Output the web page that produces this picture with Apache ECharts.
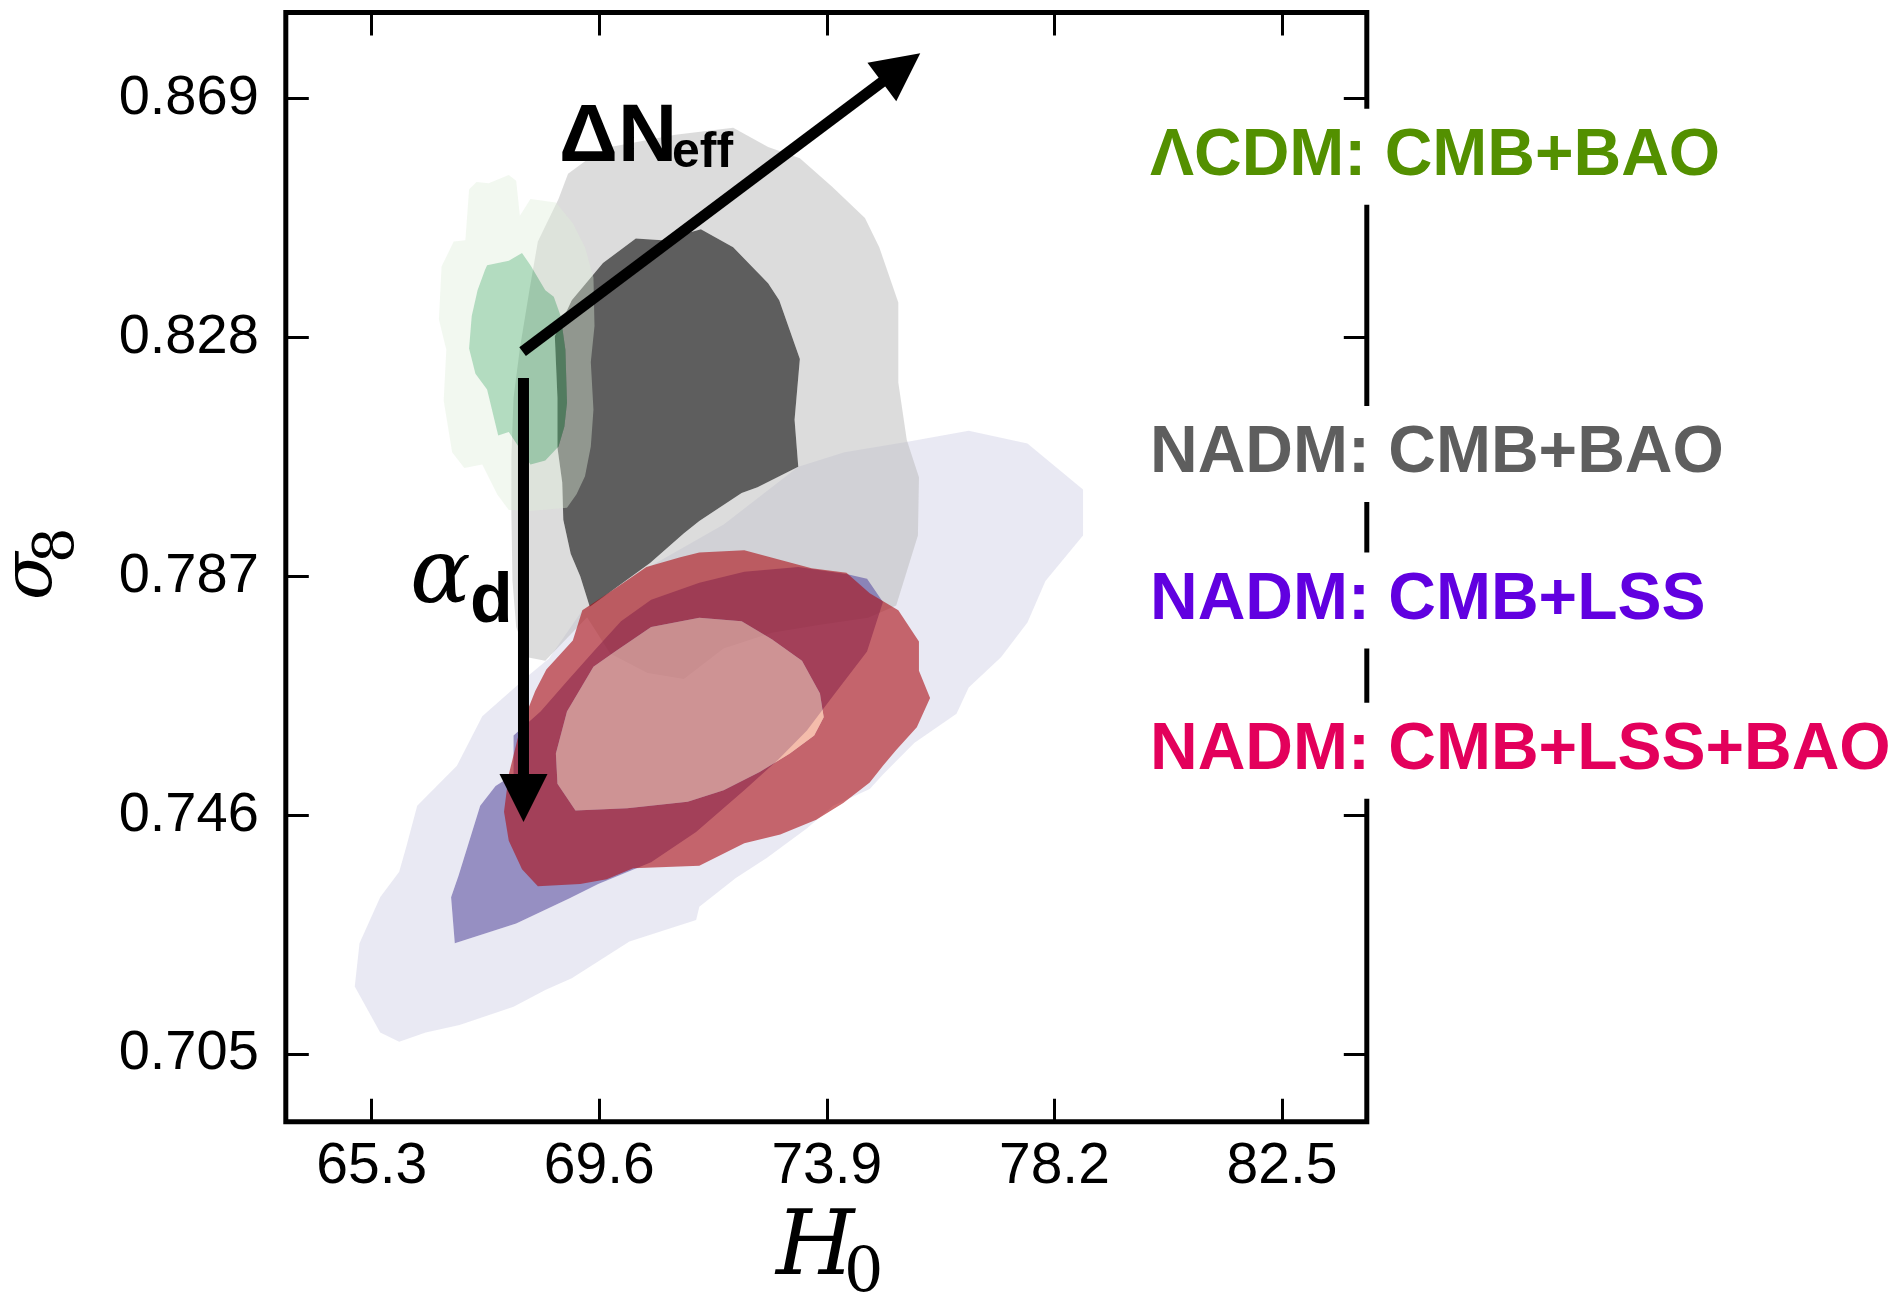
<!DOCTYPE html>
<html>
<head>
<meta charset="utf-8">
<script src="https://cdn.jsdelivr.net/npm/echarts@6/dist/echarts.min.js"></script>
<style>
html,body{margin:0;padding:0;background:#ffffff;}
#chart{width:1891px;height:1299px;}
</style>
</head>
<body>
<div id="chart"></div>
<script>
// ---------------- data ----------------
const xTicks = [65.3, 69.6, 73.9, 78.2, 82.5];
const yTicks = [0.705, 0.746, 0.787, 0.828, 0.869];
const xRange = [63.677, 84.102];
const yRange = [0.69338, 0.8838];

const legendLabels = ['ΛCDM: CMB+BAO', 'NADM: CMB+BAO', 'NADM: CMB+LSS', 'NADM: CMB+LSS+BAO'];

// LCDM: CMB+BAO  (2 sigma outer, 1 sigma inner)
const lcdmOuter = [[67.14,0.8534],[67.28,0.8547],[67.51,0.8545],[67.89,0.8559],[68.03,0.8549],[68.10,0.8489],[68.30,0.8518],[68.78,0.8512],[69.10,0.8476],[69.33,0.8435],[69.49,0.8383],[69.51,0.8300],[69.44,0.8238],[69.49,0.8156],[69.44,0.8093],[69.33,0.8042],[69.17,0.8011],[68.99,0.7988],[68.30,0.7982],[67.89,0.7984],[67.67,0.8011],[67.39,0.8062],[67.05,0.8056],[66.82,0.8083],[66.66,0.8172],[66.71,0.8259],[66.57,0.8311],[66.62,0.8402],[66.85,0.8445],[67.07,0.8447]];
const lcdmInner = [[67.48,0.8404],[67.89,0.8412],[68.14,0.8425],[68.30,0.8404],[68.58,0.8361],[68.74,0.8350],[68.87,0.8317],[68.96,0.8259],[68.99,0.8168],[68.94,0.8127],[68.83,0.8093],[68.58,0.8069],[68.30,0.8062],[67.89,0.8118],[67.69,0.8112],[67.48,0.8191],[67.26,0.8218],[67.14,0.8261],[67.19,0.8317],[67.30,0.8361],[67.44,0.8396]];

// NADM: CMB+BAO
const nadmBaoOuter = [[69.01,0.8561],[69.44,0.8590],[69.81,0.8607],[71.04,0.8628],[72.13,0.8640],[72.79,0.8607],[73.39,0.8588],[74.00,0.8539],[74.62,0.8485],[74.89,0.8435],[75.25,0.8340],[75.25,0.8203],[75.41,0.8104],[75.64,0.8040],[75.62,0.7940],[75.21,0.7820],[74.68,0.7799],[73.77,0.7787],[72.86,0.7773],[71.95,0.7746],[71.20,0.7694],[70.51,0.7704],[69.81,0.7737],[69.37,0.7800],[68.58,0.7725],[68.24,0.7731],[68.03,0.7783],[67.96,0.7862],[67.94,0.7975],[67.94,0.8077],[67.98,0.8176],[68.10,0.8261],[68.28,0.8361],[68.44,0.8445],[68.83,0.8518]];
const nadmBaoInner = [[70.29,0.8450],[70.79,0.8447],[71.52,0.8466],[72.13,0.8435],[72.79,0.8373],[73.00,0.8344],[73.39,0.8243],[73.29,0.8139],[73.36,0.8058],[72.59,0.8023],[72.29,0.8013],[71.49,0.7965],[71.20,0.7944],[70.56,0.7893],[69.42,0.7818],[69.24,0.7870],[69.06,0.7909],[68.92,0.7967],[68.90,0.8031],[68.81,0.8091],[68.81,0.8176],[68.76,0.8282],[69.08,0.8344],[69.67,0.8408]];

// NADM: CMB+LSS
const nadmLssOuter = [[76.58,0.8120],[77.69,0.8098],[78.74,0.8019],[78.74,0.7940],[78.03,0.7862],[77.69,0.7791],[77.19,0.7731],[76.58,0.7679],[76.35,0.7634],[75.55,0.7584],[74.96,0.7530],[74.71,0.7505],[74.02,0.7476],[73.52,0.7437],[72.77,0.7387],[72.18,0.7352],[71.49,0.7303],[71.43,0.7280],[70.17,0.7243],[69.08,0.7180],[68.58,0.7160],[67.98,0.7131],[66.96,0.7100],[66.32,0.7087],[65.82,0.7071],[65.46,0.7087],[64.98,0.7166],[65.07,0.7240],[65.46,0.7319],[65.82,0.7363],[65.96,0.7408],[66.16,0.7476],[66.91,0.7545],[67.39,0.7630],[68.24,0.7698],[68.65,0.7729],[69.28,0.7812],[70.35,0.7876],[71.95,0.7959],[73.36,0.8058],[74.23,0.8083],[75.48,0.8102]];
const nadmLssInner = [[66.80,0.7319],[66.87,0.7240],[68.03,0.7274],[69.03,0.7317],[69.58,0.7342],[70.58,0.7379],[71.43,0.7431],[72.34,0.7503],[72.98,0.7555],[73.52,0.7605],[74.02,0.7665],[74.66,0.7741],[74.96,0.7826],[74.66,0.7866],[74.27,0.7874],[73.36,0.7886],[72.34,0.7878],[71.49,0.7859],[70.58,0.7830],[70.01,0.7793],[69.49,0.7741],[68.99,0.7690],[68.49,0.7638],[67.98,0.7597],[67.98,0.7530],[67.64,0.7510],[67.35,0.7476],[66.94,0.7356]];

// NADM: CMB+LSS+BAO
const nadmAllOuter = [[70.49,0.7886],[71.13,0.7903],[71.49,0.7911],[72.34,0.7915],[73.61,0.7884],[74.27,0.7876],[74.71,0.7841],[75.25,0.7812],[75.64,0.7758],[75.64,0.7708],[75.85,0.7661],[75.60,0.7611],[75.21,0.7572],[74.96,0.7545],[74.71,0.7516],[74.21,0.7481],[73.70,0.7452],[73.02,0.7427],[72.34,0.7412],[71.49,0.7373],[70.24,0.7369],[69.74,0.7350],[69.24,0.7342],[68.44,0.7338],[68.14,0.7367],[67.89,0.7416],[67.80,0.7466],[67.89,0.7530],[68.10,0.7607],[68.39,0.7673],[68.60,0.7710],[69.10,0.7760],[69.28,0.7812],[69.90,0.7849]];
const nadmAllInner = [[69.49,0.7715],[69.90,0.7741],[70.58,0.7783],[71.49,0.7799],[72.29,0.7793],[72.86,0.7762],[73.43,0.7725],[73.77,0.7669],[73.84,0.7628],[73.66,0.7597],[73.20,0.7566],[72.63,0.7534],[71.95,0.7503],[71.27,0.7483],[70.13,0.7472],[69.15,0.7468],[68.81,0.7514],[68.78,0.7566],[68.99,0.7638]];

// annotation arrows: [x_from, y_from, x_to, y_to]
const arrowData = [[68.151, 0.82558, 75.665, 0.87681], [68.168, 0.82106, 68.168, 0.74482]];

// ---------------- helpers ----------------
function signedArea(pts) {
  let a = 0;
  for (let i = 0; i < pts.length; i++) {
    const p = pts[i], q = pts[(i + 1) % pts.length];
    a += p[0] * q[1] - q[0] * p[1];
  }
  return a / 2;
}
function pathOf(pts) {
  return 'M' + pts.map(p => p[0].toFixed(2) + ' ' + p[1].toFixed(2)).join(' L') + ' Z ';
}
function band(name, outer, inner, color, z) {
  return {
    type: 'custom', name: name, coordinateSystem: 'cartesian2d',
    xAxisIndex: 0, yAxisIndex: 0, z: z, silent: true, animation: false,
    data: outer,
    renderItem: function (params, api) {
      if (params.dataIndex !== 0) return null;
      const o = outer.map(p => api.coord(p));
      let d = pathOf(o);
      if (inner) {
        let h = inner.map(p => api.coord(p));
        if (Math.sign(signedArea(o)) === Math.sign(signedArea(h))) h = h.slice().reverse();
        d += pathOf(h);
      }
      return { type: 'path', shape: { pathData: d }, style: { fill: color, stroke: null } };
    }
  };
}

const chart = echarts.init(document.getElementById('chart'), null, { renderer: 'canvas' });

const tickFont = 'Liberation Sans';
const baseAxis = {
  type: 'value',
  axisLine: { show: false },
  splitLine: { show: false },
  axisTick: { show: true, inside: true, length: 23, lineStyle: { color: '#000', width: 3 } }
};

const legendColors = ['#539000', '#5e5e5e', '#6100e0', '#e3005b'];
const legendY = [156.8, 454, 600.6, 750.7];

const graphics = legendLabels.map((t, i) => ({
  type: 'text', x: 1146, y: legendY[i], z: 100,
  style: {
    text: t, fill: legendColors[i],
    fontFamily: 'Liberation Sans', fontWeight: 'bold', fontSize: 66,
    align: 'left', verticalAlign: 'middle', textAlign: 'left', textVerticalAlign: 'middle',
    backgroundColor: '#ffffff', padding: [15, 4, 15, 4], lineHeight: 66
  }
}));

function txt(text, x, y, font, extra) {
  return Object.assign({
    type: 'text', x: x, y: y, z: 110,
    style: Object.assign({
      text: text, fill: '#000', align: 'left', verticalAlign: 'middle',
      textAlign: 'left', textVerticalAlign: 'middle'
    }, font)
  }, extra || {});
}

graphics.push(txt('ΔN', 559, 138.7, { fontFamily: 'Liberation Sans', fontWeight: 'bold', fontSize: 82 }));
graphics.push(txt('eff', 672, 153.7, { fontFamily: 'Liberation Sans', fontWeight: 'bold', fontSize: 50 }));
graphics.push(txt('α', 410, 579, { fontFamily: 'DejaVu Serif', fontStyle: 'italic', fontSize: 90 }));
graphics.push(txt('d', 470, 602.7, { fontFamily: 'Liberation Sans', fontWeight: 'bold', fontSize: 70 }));
graphics.push(txt('H', 776, 1250.9, { fontFamily: 'DejaVu Serif', fontStyle: 'italic', fontSize: 90 }));
graphics.push(txt('0', 844, 1274.5, { fontFamily: 'DejaVu Serif', fontSize: 62 }));
graphics.push({
  type: 'group', x: 57, y: 600, rotation: Math.PI / 2, z: 110,
  children: [
    txt('σ', 0, -24.2, { fontFamily: 'DejaVu Serif', fontStyle: 'italic', fontSize: 70 }),
    txt('8', 37, 1, { fontFamily: 'DejaVu Serif', fontSize: 56 })
  ]
});

const option = {
  animation: false,
  backgroundColor: '#ffffff',
  grid: {
    left: 285.8, top: 12.5, width: 1081, height: 1109.2,
    show: true, borderColor: '#000', borderWidth: 5, backgroundColor: 'transparent',
    containLabel: false, outerBoundsMode: 'none'
  },
  xAxis: [
    Object.assign({}, baseAxis, {
      position: 'bottom', min: xRange[0], max: xRange[1],
      axisTick: Object.assign({}, baseAxis.axisTick, { customValues: xTicks }),
      axisLabel: {
        show: true, customValues: xTicks, margin: 17, color: '#000',
        fontFamily: tickFont, fontSize: 57, formatter: v => Number(v).toFixed(1)
      }
    }),
    Object.assign({}, baseAxis, {
      position: 'top', min: xRange[0], max: xRange[1],
      axisTick: Object.assign({}, baseAxis.axisTick, { customValues: xTicks }),
      axisLabel: { show: false }
    })
  ],
  yAxis: [
    Object.assign({}, baseAxis, {
      position: 'left', min: yRange[0], max: yRange[1],
      axisTick: Object.assign({}, baseAxis.axisTick, { customValues: yTicks }),
      axisLabel: {
        show: true, customValues: yTicks, margin: 27, color: '#000',
        fontFamily: tickFont, fontSize: 56, formatter: v => Number(v).toFixed(3)
      }
    }),
    Object.assign({}, baseAxis, {
      position: 'right', min: yRange[0], max: yRange[1],
      axisTick: Object.assign({}, baseAxis.axisTick, { customValues: yTicks }),
      axisLabel: { show: false }
    })
  ],
  series: [
    band('NADM: CMB+LSS 2σ', nadmLssOuter, nadmLssInner, 'rgba(200,200,225,0.4)', 2),
    band('NADM: CMB+BAO 2σ', nadmBaoOuter, nadmBaoInner, 'rgba(185,185,185,0.5)', 3),
    band('NADM: CMB+LSS 1σ', nadmLssInner, null, 'rgba(100,90,165,0.68)', 4),
    band('NADM: CMB+BAO 1σ', nadmBaoInner, null, 'rgba(66,66,66,0.85)', 5),
    band('NADM: CMB+LSS+BAO 2σ', nadmAllOuter, nadmAllInner, 'rgba(172,11,19,0.6)', 6),
    band('NADM: CMB+LSS+BAO 1σ', nadmAllInner, null, 'rgba(254,151,112,0.55)', 7),
    band('ΛCDM: CMB+BAO 2σ', lcdmOuter, lcdmInner, 'rgba(222,238,218,0.4)', 8),
    band('ΛCDM: CMB+BAO 1σ', lcdmInner, null, 'rgba(65,168,98,0.4)', 9),
    {
      type: 'custom', name: 'arrows', coordinateSystem: 'cartesian2d',
      xAxisIndex: 0, yAxisIndex: 0, z: 20, silent: true,
      dimensions: ['x1', 'y1', 'x2', 'y2'],
      encode: { x: [0, 2], y: [1, 3] },
      data: arrowData,
      renderItem: function (params, api) {
        const a = api.coord([api.value(0), api.value(1)]);
        const b = api.coord([api.value(2), api.value(3)]);
        const dx = b[0] - a[0], dy = b[1] - a[1];
        const L = Math.hypot(dx, dy), ux = dx / L, uy = dy / L;
        const headL = 48, headW = 24;
        const bx = b[0] - ux * headL, by = b[1] - uy * headL;
        const px = -uy, py = ux;
        return {
          type: 'group',
          children: [
            { type: 'line', shape: { x1: a[0], y1: a[1], x2: bx + ux * 2, y2: by + uy * 2 },
              style: { stroke: '#000', lineWidth: 11, lineCap: 'butt' } },
            { type: 'polygon', shape: { points: [[b[0], b[1]], [bx + px * headW, by + py * headW], [bx - px * headW, by - py * headW]] },
              style: { fill: '#000' } }
          ]
        };
      }
    }
  ],
  graphic: graphics
};

chart.setOption(option);
</script>
</body>
</html>
